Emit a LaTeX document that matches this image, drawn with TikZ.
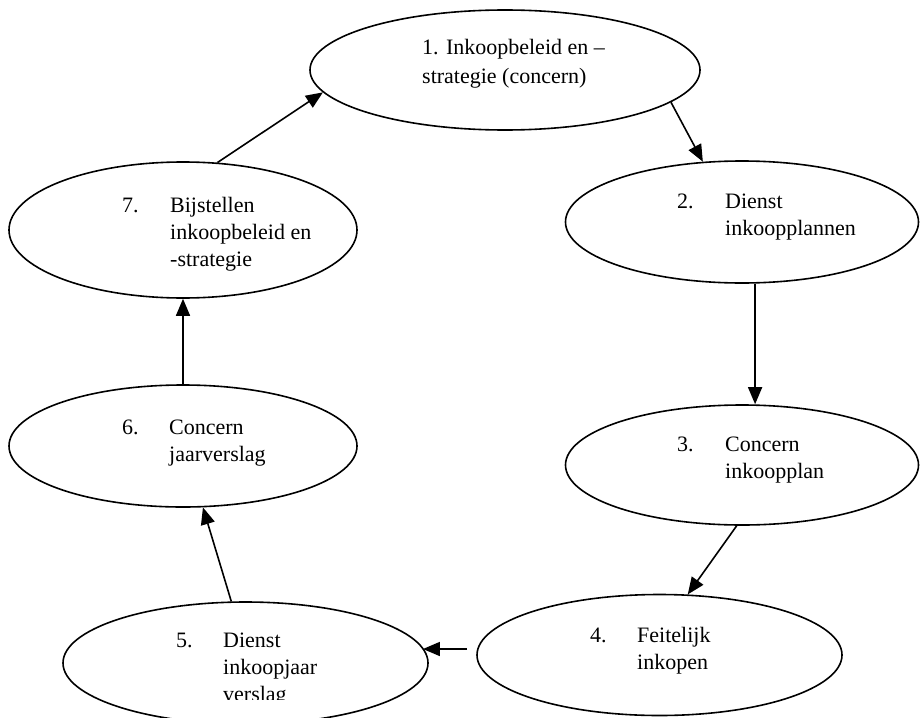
\documentclass[tikz,border=0pt]{standalone}
\usepackage{fontspec}
\setmainfont{Liberation Serif}
\usetikzlibrary{shapes.geometric,arrows.meta}
\begin{document}
\begin{tikzpicture}[x=1pt,y=-1pt,
  oval/.style={draw,ellipse,line width=1.6pt,inner sep=0pt},
  lbl/.style={anchor=base west,inner sep=0pt,font=\fontsize{22}{27}\selectfont},
  arr/.style={line width=1.6pt,-{Triangle[length=17pt,width=14pt]}}]
\useasboundingbox (0,0) rectangle (920,717);
\clip (0,0) rectangle (920,717);
% ellipses
\node[oval,minimum width=390pt,minimum height=120pt] (e1) at (505,70) {};
\node[oval,minimum width=353pt,minimum height=122pt] (e2) at (742,222) {};
\node[oval,minimum width=353pt,minimum height=120pt] (e3) at (742,465) {};
\node[oval,minimum width=365pt,minimum height=121pt] (e4) at (659.5,655) {};
\node[oval,minimum width=365pt,minimum height=122pt] (e5) at (245.5,663) {};
\node[oval,minimum width=348pt,minimum height=122pt] (e6) at (183,446) {};
\node[oval,minimum width=348pt,minimum height=136pt] (e7) at (183,230) {};
% texts
\node[lbl] (t1a) at (422,55) {1. Inkoopbeleid en –};
\node[lbl] (t1b) at (422,83) {strategie (concern)};
\node[lbl] (n2) at (677,208) {2.};
\node[lbl] (t2a) at (725,208) {Dienst};
\node[lbl] (t2b) at (725,235) {inkoopplannen};
\node[lbl] (n3) at (677,451) {3.};
\node[lbl] (t3a) at (725,451) {Concern};
\node[lbl] (t3b) at (725,478) {inkoopplan};
\node[lbl] (n4) at (590,642) {4.};
\node[lbl] (t4a) at (637,642) {Feitelijk};
\node[lbl] (t4b) at (637,669) {inkopen};
\node[lbl] (n5) at (176,647) {5.};
\node[lbl] (t5a) at (223,647) {Dienst};
\node[lbl] (t5b) at (223,674) {inkoopjaar};
\begin{scope}
\clip (0,0) rectangle (920,699);
\node[lbl] (t5c) at (223,701) {verslag};
\end{scope}
\node[lbl] (n6) at (122,434) {6.};
\node[lbl] (t6a) at (169,434) {Concern};
\node[lbl] (t6b) at (169,461) {jaarverslag};
\node[lbl] (n7) at (122,212) {7.};
\node[lbl] (t7a) at (170,212) {Bijstellen};
\node[lbl] (t7b) at (170,239) {inkoopbeleid en};
\node[lbl] (t7c) at (170,266) {-strategie};
% connectors
\draw[arr] (e7.63) -- (e1.187);
\draw[arr] (e1.-11) -- (e2.123);
\draw[arr] (e2.-78) -- (e2.-78 |- e3.north);
\draw[arr] (e3.-95) -- (e4.65);
\coordinate (s45) at ([xshift=-9pt,yshift=6pt]e4.west);
\draw[arr] (s45) -- (e5.5 |- s45);
\draw[arr] (e5.103) -- (e6.-72);
\draw[arr] (e6.north) -- (e7.south);
\end{tikzpicture}
\end{document}
